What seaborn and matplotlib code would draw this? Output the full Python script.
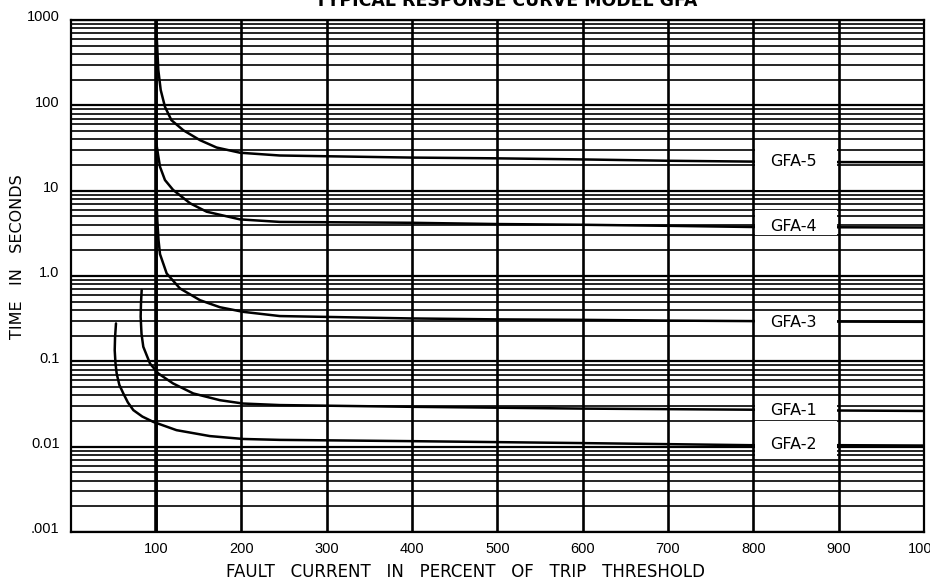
import pandas as pd
import seaborn as sns
import matplotlib.pyplot as plt
from matplotlib.patches import Rectangle
from matplotlib.ticker import LogLocator, NullFormatter
from matplotlib.transforms import ScaledTranslation

# curve values (x = % of trip threshold, y = seconds)
gfa5_x = [101, 102.7, 105.5, 110.5, 118, 132, 151.6, 171, 198.5, 245, 398, 499, 601, 699, 796, 900, 1000]
gfa5_y = [580, 259, 151, 96, 67, 51, 39, 32, 27.8, 25.8, 24.4, 23.9, 23.2, 22.4, 21.9, 21.6, 21.5]

gfa4_x = [100.5, 102.5, 104.7, 110.5, 120, 140, 159.4, 198.5, 245, 398, 499, 601, 699, 796, 900, 1000]
gfa4_y = [35, 26, 19, 13.3, 10.2, 7.1, 5.66, 4.6, 4.3, 4.2, 4.06, 3.98, 3.87, 3.75, 3.72, 3.7]

gfa3_x = [100.5, 101.5, 103, 104.7, 112.5, 128, 151.6, 175, 202, 245, 398, 499, 601, 699, 796, 900, 1000]
gfa3_y = [8.0, 4.5, 2.6, 1.8, 1.07, 0.715, 0.52, 0.43, 0.38, 0.339, 0.318, 0.31, 0.306, 0.30, 0.296, 0.292, 0.29]

gfa1_x = [83.2, 82.4, 82, 83, 85.1, 93, 102.7, 120, 143.7, 175, 202, 245, 398, 499, 601, 699, 796, 900, 1000]
gfa1_y = [0.684, 0.48, 0.333, 0.21, 0.148, 0.094, 0.072, 0.055, 0.042, 0.035, 0.032, 0.0307, 0.0293, 0.0286, 0.0279, 0.0275, 0.0271, 0.0265, 0.0262]

gfa2_x = [53.1, 52, 51.6, 52.5, 53.9, 57, 61.7, 67, 73.4, 84, 96.8, 124, 163, 202, 245, 398, 499, 601, 699, 796, 900, 1000]
gfa2_y = [0.278, 0.19, 0.135, 0.095, 0.072, 0.053, 0.042, 0.033, 0.0268, 0.0225, 0.0195, 0.0156, 0.0133, 0.0123, 0.012, 0.0116, 0.0113, 0.011, 0.0107, 0.0104, 0.0104, 0.0103]

curves = {'GFA-5': (gfa5_x, gfa5_y), 'GFA-4': (gfa4_x, gfa4_y), 'GFA-3': (gfa3_x, gfa3_y),
          'GFA-1': (gfa1_x, gfa1_y), 'GFA-2': (gfa2_x, gfa2_y)}

# label boxes between 800 and 900: text y, box low, box high
label_y = {'GFA-5': 22, 'GFA-4': 3.85, 'GFA-3': 0.286, 'GFA-1': 0.0268, 'GFA-2': 0.0107}
box_lo = {'GFA-5': 10.3, 'GFA-4': 3.05, 'GFA-3': 0.205, 'GFA-1': 0.0205, 'GFA-2': 0.0071}
box_hi = {'GFA-5': 39, 'GFA-4': 5.9, 'GFA-3': 0.39, 'GFA-1': 0.039, 'GFA-2': 0.0198}

y_ticks = [1000, 100, 10, 1, 0.1, 0.01, 0.001]
y_labels = ['1000', '100', '10', '1.0', '0.1', '0.01', '.001']
x_ticks = [100, 200, 300, 400, 500, 600, 700, 800, 900, 1000]

rows = []
for name, (xs, ys) in curves.items():
    for xv, yv in zip(xs, ys):
        rows.append({'model': name, 'current': xv, 'time': yv})
df = pd.DataFrame(rows)

sns.set_theme(style='white')
plt.rcParams['font.family'] = ['Liberation Sans', 'DejaVu Sans']
plt.rcParams['text.color'] = 'black'

fig = plt.figure(figsize=(9.3, 5.8), dpi=100)
ax = fig.add_axes([0.076, 0.0828, 0.9175, 0.8828])

sns.lineplot(data=df, x='current', y='time', hue='model', units='model', estimator=None,
             sort=False, palette=['black'] * 5, linewidth=1.8, legend=False, ax=ax, zorder=3)

ax.set_yscale('log')
ax.set_xlim(0, 1000)
ax.set_ylim(0.001, 1000)
ax.set_xticks(x_ticks)
ax.set_xticklabels([str(v) for v in x_ticks], fontsize=10.5, color='black')
ax.set_yticks(y_ticks)
ax.set_yticklabels(y_labels, fontsize=10.5, color='black')
ax.yaxis.set_minor_locator(LogLocator(base=10, subs=range(2, 10), numticks=20))
ax.yaxis.set_minor_formatter(NullFormatter())
ax.tick_params(axis='both', which='both', length=0)
ax.tick_params(axis='y', pad=8)
ax.tick_params(axis='x', pad=7)
for lab in ax.get_yticklabels():
    lab.set_transform(lab.get_transform() + ScaledTranslation(0, 4 / 100, fig.dpi_scale_trans))

ax.set_axisbelow(True)
ax.yaxis.grid(True, which='major', color='black', linewidth=1.6)
ax.yaxis.grid(True, which='minor', color='black', linewidth=1.2)
ax.xaxis.grid(True, which='major', color='black', linewidth=1.9)
ax.axvline(100, color='black', linewidth=2.6, zorder=1)
for s in ax.spines.values():
    s.set_color('black')
    s.set_linewidth(1.6)

for name in curves:
    ax.add_patch(Rectangle((801.5, box_lo[name]), 97, box_hi[name] - box_lo[name],
                           facecolor='white', edgecolor='none', zorder=4))
    ax.text(847, label_y[name], name, ha='center', va='center', fontsize=11.5,
            family=['DejaVu Sans'], color='black', zorder=5)

ax.set_xlabel('')
ax.set_ylabel('')
fig.text(0.501, 1 - 572 / 580, 'FAULT   CURRENT   IN   PERCENT   OF   TRIP   THRESHOLD',
         ha='center', va='center', fontsize=12, family=['DejaVu Sans'], color='black')
fig.text(18 / 930, 1 - 257 / 580, 'TIME   IN   SECONDS', rotation=90,
         ha='center', va='center', fontsize=11.5, family=['DejaVu Sans'], color='black')
fig.text(506 / 930, 1 - 1 / 580, 'TYPICAL RESPONSE CURVE MODEL GFA',
         ha='center', va='center', fontsize=12.5, fontweight='bold', family=['DejaVu Sans'],
         color='black')

fig.savefig('out.png', dpi=100)
